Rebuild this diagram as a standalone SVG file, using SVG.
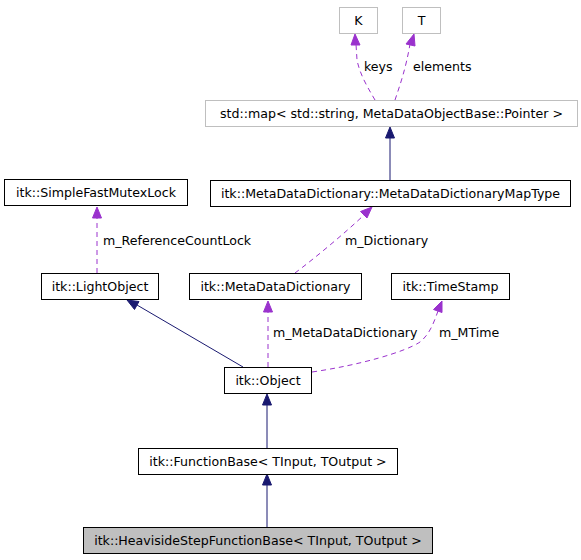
<svg xmlns="http://www.w3.org/2000/svg" width="581" height="560" viewBox="0 0 581 560">
<defs>
<style>
.n rect{fill:#fff;stroke:#000;stroke-width:1}
.n.g rect{stroke:#bfbfbf}
.n.h rect{fill:#bfbfbf}
text{font-family:"DejaVu Sans",sans-serif;font-size:12.6px;fill:#000}
.n text{text-anchor:middle}
.inh{fill:none;stroke:#191970;stroke-width:1}
.use{fill:none;stroke:#9a32cd;stroke-width:1;stroke-dasharray:5,4}
.ah1{fill:#191970;stroke:#191970}
.ah2{fill:#9a32cd;stroke:#9a32cd}
</style>
</defs>
<rect width="581" height="560" fill="#fff"/>
<g id="connectors">
<path class="inh" d="M267,527 L267,484"/>
<polygon class="ah1" points="267,474 262.5,485 271.5,485"/>
<path class="inh" d="M267,448 L267,404"/>
<polygon class="ah1" points="267,394 262.5,405 271.5,405"/>
<path class="inh" d="M243,367 L137,305"/>
<polygon class="ah1" points="127,300 134.5,309.5 139,301.5"/>
<path class="inh" d="M390,180 L390,137"/>
<polygon class="ah1" points="390,127 385.5,138 394.5,138"/>
<path class="use" d="M97,273 L97,217"/>
<polygon class="ah2" points="97,207 92.5,218 101.5,218"/>
<text x="103" y="245">m_ReferenceCountLock</text>
<path class="use" d="M295,273 C315,258 345,233 364,215"/>
<polygon class="ah2" points="372,207 360.5,211.5 367,218"/>
<text x="345" y="245">m_Dictionary</text>
<path class="use" d="M268,367 L268,311"/>
<polygon class="ah2" points="268,301 263.5,312 272.5,312"/>
<text x="273" y="337">m_MetaDataDictionary</text>
<path class="use" d="M312,372 C360,365 405,352 420,342 C430,334 434,322 438,311"/>
<polygon class="ah2" points="442,301 433.5,309.5 442,312.5"/>
<text x="439" y="337">m_MTime</text>
<path class="use" d="M375,100 C368,88 360,75 357,60 L356,44"/>
<polygon class="ah2" points="355,34 351,45 360,45"/>
<text x="364" y="71">keys</text>
<path class="use" d="M395,100 C400,85 406,68 410,44"/>
<polygon class="ah2" points="414,34 406,44 415,46"/>
<text x="413" y="71">elements</text>
</g>
<g id="node-K" class="n g"><rect x="339.5" y="7.5" width="38" height="26"/><text x="358.5" y="25">K</text></g>
<g id="node-T" class="n g"><rect x="402.5" y="7.5" width="38" height="26"/><text x="421.5" y="25">T</text></g>
<g id="node-stdmap" class="n g"><rect x="205.5" y="100.5" width="372" height="26"/><text x="391.5" y="118">std::map&lt; std::string, MetaDataObjectBase::Pointer &gt;</text></g>
<g id="node-MapType" class="n"><rect x="210.5" y="180.5" width="360" height="26"/><text x="390.5" y="198">itk::MetaDataDictionary::MetaDataDictionaryMapType</text></g>
<g id="node-Mutex" class="n"><rect x="4.5" y="179.5" width="183" height="26"/><text x="96" y="197">itk::SimpleFastMutexLock</text></g>
<g id="node-LightObject" class="n"><rect x="41.5" y="273.5" width="117" height="26"/><text x="100" y="291">itk::LightObject</text></g>
<g id="node-MetaDataDictionary" class="n"><rect x="189.5" y="273.5" width="172" height="26"/><text x="275.5" y="291">itk::MetaDataDictionary</text></g>
<g id="node-TimeStamp" class="n"><rect x="391.5" y="273.5" width="118" height="26"/><text x="450.5" y="291">itk::TimeStamp</text></g>
<g id="node-Object" class="n"><rect x="224.5" y="367.5" width="87" height="26"/><text x="268" y="385">itk::Object</text></g>
<g id="node-FunctionBase" class="n"><rect x="138.5" y="448.5" width="259" height="26"/><text x="268" y="466">itk::FunctionBase&lt; TInput, TOutput &gt;</text></g>
<g id="node-Heaviside" class="n h"><rect x="83.5" y="527.5" width="349" height="26"/><text x="258" y="545">itk::HeavisideStepFunctionBase&lt; TInput, TOutput &gt;</text></g>
</svg>
